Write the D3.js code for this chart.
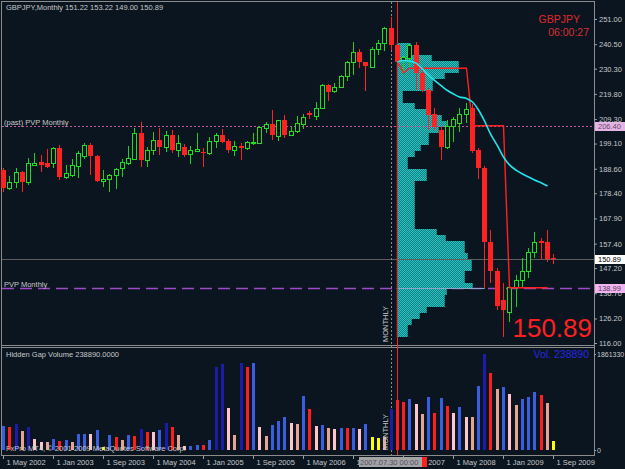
<!DOCTYPE html>
<html><head><meta charset="utf-8">
<title>GBPJPY Monthly</title>
<script src="https://d3js.org/d3.v7.min.js"></script>
<style>
  body { margin: 0; background: #0a1520; }
  svg { display: block; font-family: "Liberation Sans", Arial, sans-serif; }
  .axis text { fill: #c8c8c8; font-size: 7.5px; font-family: "Liberation Sans", Arial, sans-serif; }
  .axis line { stroke: #a0a0a0; }
  .axis path { display: none; }
  .axis.vol text { font-size: 7px; }
  .lbl { fill: #c8c8c8; font-size: 7.5px; }
</style>
</head>
<body>
<svg id="chart" width="625" height="469"></svg>
<script>
// ---- data: GBPJPY monthly bars, May 2002 .. Sep 2009 ----
const openP  = [188.0,180.6,183.0,187.2,183.0,190.0,191.4,191.0,191.0,197.3,185.2,186.0,189.8,193.9,198.5,193.9,183.3,184.2,186.0,188.9,
                191.0,192.7,203.5,192.3,196.4,200.6,197.7,202.7,196.4,197.7,194.8,196.0,195.6,195.2,200.2,202.7,200.2,196.4,198.0,197.3,
                199.3,199.3,205.6,207.3,202.3,209.0,202.7,204.3,207.3,211.8,210.6,213.9,223.5,221.0,222.7,227.3,233.1,237.3,233.1,231.0,
                238.5,241.0,247.3,240.2,234.0,234.8,240.2,228.5,221.4,211.4,204.8,197.7,206.4,207.7,211.4,213.9,196.4,188.9,158.1,146.0,
                133.9,129.0,139.3,142.3,146.0,153.9,158.5,158.1,151.22];
const highP  = [189.0,185.4,189.0,187.5,193.0,195.0,194.3,197.0,197.7,198.5,190.0,192.7,196.0,199.3,199.3,194.3,188.0,186.4,189.0,192.7,
                198.0,205.6,208.0,197.7,204.0,205.6,204.3,204.8,202.7,198.9,198.0,203.5,197.3,201.8,203.5,205.2,201.0,200.2,199.3,200.2,
                203.5,206.4,208.0,213.0,209.0,211.0,206.0,210.6,211.4,212.7,216.4,223.9,223.9,224.3,227.7,233.5,241.4,238.5,233.1,239.3,
                242.3,247.7,251.8,241.0,235.4,240.6,241.4,229.8,222.3,213.9,206.0,208.9,210.2,213.9,216.0,215.6,197.3,189.8,163.0,147.2,
                141.0,141.0,144.3,151.4,155.6,162.3,159.8,163.0,153.22];
const lowP   = [179.0,179.7,180.6,179.0,181.8,189.8,187.3,189.0,188.9,183.9,184.3,185.2,184.8,192.7,186.0,183.1,181.0,179.0,180.0,185.0,
                190.0,192.3,189.3,189.3,194.3,194.3,195.6,195.0,193.5,193.5,190.6,195.6,189.3,194.3,197.3,199.3,195.2,193.9,192.3,196.4,
                198.5,199.0,203.5,200.6,200.2,201.5,202.3,203.5,205.2,209.3,208.9,213.5,216.8,220.2,222.3,225.2,227.7,230.6,221.0,231.0,
                236.0,237.7,238.1,231.0,228.0,231.0,221.4,220.6,204.8,204.8,192.3,196.8,199.8,203.9,207.7,195.2,184.3,139.0,141.0,129.8,
                118.5,124.8,131.0,139.3,143.1,151.4,150.6,149.8,149.00];
const closeP = [180.6,183.0,187.2,183.0,191.0,191.2,190.2,189.3,197.3,185.2,186.8,190.0,195.2,198.5,193.9,183.5,184.2,185.8,188.5,191.4,
                193.0,203.5,192.3,196.4,200.6,197.7,202.7,196.4,199.3,194.3,196.4,196.8,195.2,200.2,202.7,199.8,196.4,198.0,197.3,199.8,
                199.8,206.0,207.3,202.7,209.0,202.7,204.3,207.7,210.2,211.0,213.9,223.5,220.6,222.7,227.3,233.1,237.3,233.1,231.4,238.5,
                241.0,247.3,240.2,233.1,235.0,240.2,228.5,221.4,211.0,206.0,197.7,206.4,209.3,211.4,213.5,196.0,188.9,158.1,146.0,131.4,
                129.8,139.3,142.3,146.0,153.9,158.1,157.7,151.0,150.89];

// Hidden gap volume per bar and its colour class
const volumes = [465,446,504,368,446,213,155,155,213,175,194,155,310,310,310,388,58,291,252,194,
                 291,271,407,349,349,388,524,446,291,78,78,97,97,194,1609,1668,814,291,1687,1609,
                 1687,446,271,485,562,640,524,504,1047,795,465,485,427,407,427,427,427,407,504,252,
                 233,252,795,970,931,989,892,698,1028,717,1008,853,717,834,640,640,1241,1861,1493,1183,
                 1222,1086,873,989,1028,1125,1066,911,175].map(v => v * 1000);
const volClass = ("brnsnppsbrbsbbpbybrsbrnrpbnrspbbrbnnpsnrbpsbbbpsbrpbspbrbpbyysnrrbpsbrbrpbpsbnrsbpsbbbrsy").split("");

// price ticks of the right axis
const priceTicks = [251.00,240.50,230.30,219.80,209.30,199.10,188.60,178.40,167.90,157.40,147.20,136.70,126.20,116.00];
const timeTickIdx = [0,8,16,24,32,40,48,56,64,72,80,88];
const timeTickLabels = ["1 May 2002","1 Jan 2003","1 Sep 2003","1 May 2004","1 Jan 2005","1 Sep 2005",
                        "1 May 2006","1 Jan 2007","1 Sep 2007","1 May 2008","1 Jan 2009","1 Sep 2009"];

// volume profile since 2007.07.30 (bin bottoms, volume)
const profLevels = [118.5,121,123.5,126,128.5,131,133.5,136,138.5,141,143.5,146,148.5,151,153.5,156,158.5,161,163.5,166,
                    168.5,171,173.5,176,178.5,181,183.5,186,188.5,191,193.5,196,198.5,201,203.5,206,208.5,211,213.5,216,
                    218.5,221,223.5,226,228.5,231,233.5,236,238.5];
const profVol = [11,11,15,23,30,48,48,50,76,68,68,75,75,71,68,68,49,40,18,18,
                 18,18,18,18,18,18,30,30,11,11,18,24,32,32,42,50,45,30,18,6,
                 6,36,36,48,62,62,35,14,14];

// developing PVP (red) and average (cyan) from the profile start bar
const lineIdx = [63,64,65,66,67,68,69,70,71,72,73,74,75,76,77,78,79,80,81,82,83,84,85,86,87];
const pvpLine = [233.1,228.6,230.5,230.5,230.5,230.5,230.5,230.5,230.5,230.5,230.5,230.5,206.5,206.5,206.5,206.5,206.5,206.5,
                 139.0,139.0,139.0,139.0,139.0,139.0,139.0];
const avgLine = [233.1,233.7,233.5,232.5,230.2,227.7,225.4,223.1,221.2,219.75,218.5,217.9,216.4,213.1,208.5,203.1,198.1,193.5,
                 190.2,187.9,186.4,185.2,183.9,182.7,181.4];

const pastPVP = 206.40, curPVP = 138.99, bid = 150.89;
const profStart = 63, markIdx = 62;

// ---- scales ----
const svg = d3.select("#chart");
const x = d3.scaleLinear().domain([0, 88]).range([3, 553]);
const y = d3.scaleLinear().domain([116, 251]).range([343, 19]);
const yv = d3.scaleLinear().domain([0, 1861330]).range([450, 354]);
const px = d3.scaleLinear().domain([0, 100]).range([x(profStart), x(profStart) + 100]);
const cx = i => Math.round(x(i));

// dithered teal for profile
const defs = svg.append("defs");
const pat = defs.append("pattern").attr("id", "dith").attr("width", 2).attr("height", 2)
  .attr("patternUnits", "userSpaceOnUse");
pat.append("rect").attr("width", 2).attr("height", 2).attr("fill", "#128080");
pat.append("rect").attr("width", 1).attr("height", 1).attr("fill", "#28c2c2");
pat.append("rect").attr("x", 1).attr("y", 1).attr("width", 1).attr("height", 1).attr("fill", "#28c2c2");

svg.append("rect").attr("width", 625).attr("height", 469).attr("fill", "#0a1520");

// frames
const frame = svg.append("g").attr("stroke", "#8c8c8c").attr("fill", "none");
frame.append("line").attr("x1", 1.5).attr("x2", 1.5).attr("y1", 1).attr("y2", 456);
frame.append("line").attr("x1", 1).attr("x2", 594).attr("y1", 1.5).attr("y2", 1.5);
frame.append("line").attr("x1", 594.5).attr("x2", 594.5).attr("y1", 1).attr("y2", 456);
frame.append("line").attr("x1", 1).attr("x2", 594).attr("y1", 345.5).attr("y2", 345.5);
frame.append("line").attr("x1", 1).attr("x2", 594).attr("y1", 347.5).attr("y2", 347.5);
frame.append("line").attr("x1", 1).attr("x2", 594).attr("y1", 455.5).attr("y2", 455.5);

// PVP lines
const ypast = Math.round(y(pastPVP)) + 0.5, ycur = Math.round(y(curPVP)) + 0.5;
svg.append("line").attr("x1", 2).attr("x2", 594).attr("y1", ycur).attr("y2", ycur)
  .attr("stroke", "#a04cc8").attr("stroke-width", 1.5).attr("stroke-dasharray", "12,6");

// profile
const layer = svg.append("g");
layer.selectAll("rect.prof").data(profLevels).join("rect")
  .attr("class", "prof")
  .attr("x", px(0))
  .attr("y", d => Math.round(y(d + 2.5)))
  .attr("width", (d, i) => px(profVol[i]) - px(0))
  .attr("height", d => Math.round(y(d)) - Math.round(y(d + 2.5)))
  .attr("fill", "url(#dith)");
svg.append("line").attr("x1", px(0)).attr("x2", px(88)).attr("y1", ycur).attr("y2", ycur)
  .attr("stroke", "#8aa8c8");

svg.append("line").attr("x1", 2).attr("x2", 594).attr("y1", ypast).attr("y2", ypast)
  .attr("stroke", "#c25a9e").attr("stroke-dasharray", "2,2");

// bid line
const yb = Math.round(y(bid)) + 0.5;
svg.append("line").attr("x1", 2).attr("x2", 594).attr("y1", yb).attr("y2", yb).attr("stroke", "#5e5e5e");

// vertical markers
svg.append("line").attr("x1", cx(markIdx) + 0.5).attr("x2", cx(markIdx) + 0.5).attr("y1", 2).attr("y2", 455)
  .attr("stroke", "#8a8a8a").attr("stroke-dasharray", "2,2");
svg.append("line").attr("x1", cx(profStart) + 0.5).attr("x2", cx(profStart) + 0.5).attr("y1", 2).attr("y2", 455)
  .attr("stroke", "#ff2020");

// candles
const bars = openP.map((o, i) => ({ i, o, h: highP[i], l: lowP[i], c: closeP[i], up: closeP[i] >= o }));
const cg = svg.append("g");
cg.selectAll("line.wick").data(bars).join("line")
  .attr("class", "wick")
  .attr("x1", d => cx(d.i) + 0.5).attr("x2", d => cx(d.i) + 0.5)
  .attr("y1", d => Math.round(y(d.h))).attr("y2", d => Math.round(y(d.l)))
  .attr("stroke", d => d.up ? "#22cc22" : "#ff2222");
cg.selectAll("rect.body").data(bars).join("rect")
  .attr("class", "body")
  .attr("x", d => d.up ? cx(d.i) - 1.5 : cx(d.i) - 2)
  .attr("y", d => d.up ? Math.round(y(d.c)) + 0.5 : Math.round(y(d.o)))
  .attr("width", d => d.up ? 4 : 5)
  .attr("height", d => Math.max(1, Math.abs(Math.round(y(d.o)) - Math.round(y(d.c)))))
  .attr("fill", d => d.up ? "#0a1520" : "#ff2222")
  .attr("stroke", d => d.up ? "#22dd22" : "none");

// developing PVP + average
const lineGen = vals => d3.line().x(i => cx(i) + 0.5).y((i, k) => y(vals[k]));
svg.append("path").attr("d", lineGen(pvpLine)(lineIdx)).attr("fill", "none")
  .attr("stroke", "#ff2020").attr("stroke-width", 1.4);
svg.append("path").attr("d", lineGen(avgLine).curve(d3.curveMonotoneX)(lineIdx)).attr("fill", "none")
  .attr("stroke", "#22e4ec").attr("stroke-width", 1.6);

// volume bars
const volCol = { b: "#3a5ee0", n: "#1c1ca8", r: "#ff1e1e", p: "#ffc4cc", s: "#e6a494", y: "#ffff00" };
svg.append("g").selectAll("rect").data(volumes).join("rect")
  .attr("x", (d, i) => cx(i) - 1)
  .attr("y", d => Math.round(yv(d)))
  .attr("width", 3)
  .attr("height", d => 450 - Math.round(yv(d)))
  .attr("fill", (d, i) => volCol[volClass[i]]);

// axes
svg.append("g").attr("class", "axis").attr("transform", "translate(594,0)")
  .call(d3.axisRight(y).tickValues(priceTicks).tickSize(3).tickPadding(2).tickFormat(d3.format(".2f")));
svg.append("g").attr("class", "axis vol").attr("transform", "translate(594,0)")
  .call(d3.axisRight(yv).tickValues([0, 1861330]).tickSize(2).tickPadding(1).tickFormat(d3.format("d")));
const tx = svg.append("g").attr("class", "axis").attr("transform", "translate(0,456)")
  .call(d3.axisBottom(x).tickValues(timeTickIdx).tickSize(3).tickPadding(1).tickFormat((d, i) => timeTickLabels[i]));
tx.selectAll("text").attr("text-anchor", "start").attr("x", 3);

// price labels on axis
function tag(val, bg, fg) {
  const yy = Math.round(y(val));
  svg.append("rect").attr("x", 595).attr("y", yy - 4).attr("width", 30).attr("height", 9).attr("fill", bg);
  svg.append("text").attr("x", 598).attr("y", yy + 3).attr("fill", fg).attr("font-size", "7.5px")
    .text(d3.format(".2f")(val));
}
tag(pastPVP, "#e4b4e4", "#6a4a6a");
tag(bid, "#ffffff", "#000000");
tag(curPVP, "#f0b4f0", "#5a3a5a");

// time label box of the marker line
svg.append("rect").attr("x", 359).attr("y", 457).attr("width", 63).attr("height", 10).attr("fill", "#a4a4a4");
svg.append("rect").attr("x", 422).attr("y", 457).attr("width", 5).attr("height", 10).attr("fill", "#ff2020");
svg.append("text").attr("x", 360).attr("y", 465).attr("fill", "#50506a").attr("font-size", "7.5px").text("2007.07.30 00:00");

// texts
svg.append("text").attr("class", "lbl").attr("x", 6).attr("y", 10).text("GBPJPY,Monthly  151.22 153.22 149.00 150.89");
svg.append("text").attr("class", "lbl").attr("x", 4).attr("y", ypast - 2).text("(past) PVP Monthly");
svg.append("text").attr("class", "lbl").attr("x", 4).attr("y", ycur - 1.5).attr("fill", "#e0e0e0").text("PVP Monthly");
svg.append("text").attr("x", 580).attr("y", 23).attr("text-anchor", "end").attr("fill", "#e02828")
  .attr("font-size", "10.5px").text("GBPJPY");
svg.append("text").attr("x", 589).attr("y", 36).attr("text-anchor", "end").attr("fill", "#d83030")
  .attr("font-size", "10.5px").text("06:00:27");
svg.append("text").attr("x", 592).attr("y", 337).attr("text-anchor", "end").attr("fill", "#ff2020")
  .attr("font-size", "26px").text("150.89");
svg.append("text").attr("class", "lbl").attr("x", 6).attr("y", 357).text("Hidden Gap Volume 238890.0000");
svg.append("text").attr("x", 589).attr("y", 358).attr("text-anchor", "end").attr("fill", "#2828e0")
  .attr("font-size", "10.5px").text("Vol. 238890");
svg.append("text").attr("class", "lbl").attr("x", 6).attr("y", 451).text("FxPro MT4, © 2001-2009 MetaQuotes Software Corp.");
[342, 450].forEach(b => {
  svg.append("text").attr("class", "lbl").attr("transform", `translate(388,${b}) rotate(-90)`).text("MONTHLY");
});
</script>
</body>
</html>
